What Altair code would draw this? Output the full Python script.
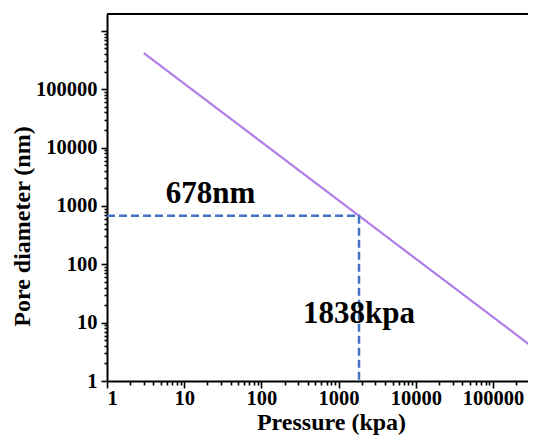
import altair as alt
import pandas as pd

# Main curve (pore diameter vs pressure, log-log straight line)
pressure = [3, 360000]
diameter = [415000, 3.46]

# Guide lines through the marked point
guide_pressure = [1, 1838, 1838]
guide_diameter = [678, 678, 1]

# Annotation texts
ann_text = ["678nm", "1838kpa"]
ann_pressure = [22, 1838]
ann_diameter = [678, 14]

# Axis ticks
x_major = [1, 10, 100, 1000, 10000, 100000]
y_major = [1, 10, 100, 1000, 10000, 100000, 1000000]
X_DOMAIN = [1, 284000]
Y_DOMAIN = [1, 1950000]
x_ticks = [m * d for d in x_major for m in range(1, 10) if m * d <= X_DOMAIN[1]]
y_ticks = [m * d for d in y_major for m in range(1, 10) if m * d <= Y_DOMAIN[1]]

W, H = 421, 367
FONT = "Liberation Serif"

def major_test(vals):
    return "indexof([" + ",".join(str(v) for v in vals) + "], datum.value) >= 0"

x_axis = alt.Axis(
    values=x_ticks,
    title="Pressure (kpa)",
    labelExpr=major_test(x_major) + " ? format(datum.value, 'd') : ''",
    tickSize={"condition": {"test": major_test(x_major), "value": 7}, "value": 4},
    labelOverlap=False,
    labelPadding=0,
    titleX=224,
    titleY=48,
    titleBaseline="alphabetic",
    titleFontSize=24,
    grid=False,
)
y_axis = alt.Axis(
    values=y_ticks,
    title="Pore diameter (nm)",
    labelExpr=major_test(y_major[:-1]) + " ? format(datum.value, 'd') : ''",
    tickSize={"condition": {"test": major_test(y_major), "value": 6}, "value": 3},
    labelOverlap=False,
    labelPadding=4,
    titleY=212,
    titlePadding=1,
    grid=False,
)

df_line = pd.DataFrame({"p": pressure, "d": diameter})
df_guide = pd.DataFrame({"p": guide_pressure, "d": guide_diameter, "o": [0, 1, 2]})
df_ann = pd.DataFrame({"p": ann_pressure, "d": ann_diameter, "t": ann_text})

line = alt.Chart(df_line).mark_line(color="#b07de8", strokeWidth=2.2, clip=True).encode(
    x=alt.X("p:Q", scale=alt.Scale(type="log", domain=X_DOMAIN, nice=False), axis=x_axis),
    y=alt.Y("d:Q", scale=alt.Scale(type="log", domain=Y_DOMAIN, nice=False), axis=y_axis),
)

guide = alt.Chart(df_guide).mark_line(color="#4472c4", strokeWidth=2.5, strokeDash=[8, 4]).encode(
    x="p:Q", y="d:Q", order="o:Q"
)

ann1 = alt.Chart(df_ann.iloc[[0]]).mark_text(
    font=FONT, fontWeight="bold", fontSize=31, color="black", baseline="alphabetic", dy=-13
).encode(x="p:Q", y="d:Q", text="t:N")

ann2 = alt.Chart(df_ann.iloc[[1]]).mark_text(
    font=FONT, fontWeight="bold", fontSize=31, color="black", baseline="middle"
).encode(x="p:Q", y="d:Q", text="t:N")

top = alt.Chart(df_line).mark_rule(color="black", strokeWidth=2).encode(
    x=alt.value(0), x2=alt.value(W), y=alt.value(0)
)

chart = (
    alt.layer(line, guide, ann1, ann2, top)
    .properties(
        width=W,
        height=H,
        autosize=alt.AutoSizeParams(type="none"),
        padding={"left": 99, "top": 6, "right": 0, "bottom": 54},
        background="white",
    )
    .configure_view(stroke=None)
    .configure_axis(
        domainColor="black",
        domainWidth=2,
        tickColor="black",
        tickWidth=1.6,
        labelFont=FONT,
        labelFontWeight="bold",
        labelFontSize=20.5,
        labelColor="black",
        titleFont=FONT,
        titleFontWeight="bold",
        titleFontSize=24,
        titleColor="black",
    )
)

chart.save("out.html", embed_options={"renderer": "svg", "actions": False})
